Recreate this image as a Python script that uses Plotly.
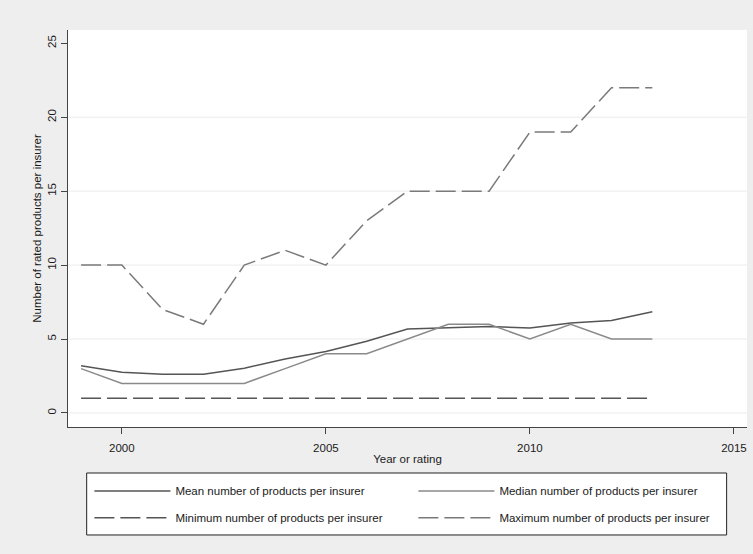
import plotly.graph_objects as go

# Rated products per insurer, by year
years = list(range(1999, 2014))
mean_products = [3.2, 2.76, 2.62, 2.62, 3.03, 3.65, 4.15, 4.85, 5.67, 5.74, 5.85, 5.74, 6.08, 6.26, 6.84]
median_products = [3, 2, 2, 2, 2, 3, 4, 4, 5, 6, 6, 5, 6, 5, 5]
min_products = [1] * 15
max_products = [10, 10, 7, 6, 10, 11, 10, 13, 15, 15, 15, 19, 19, 22, 22]

x_ticks = [2000, 2005, 2010, 2015]
y_ticks = [0, 5, 10, 15, 20, 25]
y_grid = [0, 5, 10, 15, 20]

FONT = "Liberation Sans, Arial, sans-serif"
FS = 11.5
DASH = "20px,6px"

fig = go.Figure()
fig.add_trace(go.Scatter(x=years, y=mean_products, mode="lines",
                         name="Mean number of products per insurer",
                         line=dict(color="#555555", width=1.5), legend="legend"))
fig.add_trace(go.Scatter(x=years, y=median_products, mode="lines",
                         name="Median number of products per insurer",
                         line=dict(color="#8a8a8a", width=1.5), legend="legend"))
fig.add_trace(go.Scatter(x=years, y=min_products, mode="lines",
                         name="Minimum number of products per insurer",
                         line=dict(color="#555555", width=1.5, dash=DASH), legend="legend2"))
fig.add_trace(go.Scatter(x=years, y=max_products, mode="lines",
                         name="Maximum number of products per insurer",
                         line=dict(color="#7a7a7a", width=1.5, dash=DASH), legend="legend2"))

# horizontal grid lines (none at the top tick)
shapes = [dict(type="line", xref="paper", yref="y", x0=0, x1=1, y0=g, y1=g,
               line=dict(color="#ebebeb", width=1), layer="below") for g in y_grid]
# legend frame
shapes.append(dict(type="rect", xref="paper", yref="paper",
                   x0=0.0275, x1=0.970, y0=-0.272, y1=-0.1159,
                   line=dict(color="#222222", width=1), fillcolor="white", layer="below"))

legend_common = dict(orientation="h", xanchor="left", yanchor="middle",
                     x=0.0315, bgcolor="rgba(0,0,0,0)", borderwidth=0,
                     entrywidth=233, entrywidthmode="pixels", itemwidth=76,
                     font=dict(family=FONT, size=FS, color="#1a1a1a"))

fig.update_layout(
    width=753, height=554,
    margin=dict(l=68, r=6, t=30, b=127),
    paper_bgcolor="#eeeeee", plot_bgcolor="white",
    font=dict(family=FONT, size=FS, color="#1a1a1a"),
    showlegend=True,
    legend=dict(legend_common, y=-0.1612),
    legend2=dict(legend_common, y=-0.2285),
    shapes=shapes,
    xaxis=dict(range=[1998.68, 2015.32], tickvals=x_ticks, showgrid=False, zeroline=False,
               showline=True, linecolor="#444444", linewidth=1.2,
               ticks="outside", ticklen=6, tickcolor="#444444", ticklabelstandoff=4,
               title=dict(text="Year or rating", standoff=2, font=dict(size=FS))),
    yaxis=dict(range=[-0.95, 25.9], tickvals=y_ticks, showgrid=False, zeroline=False,
               showline=True, linecolor="#444444", linewidth=1.2,
               ticks="outside", ticklen=6, tickcolor="#444444", tickangle=-90,
               title=dict(text="Number of rated products per insurer", standoff=2,
                          font=dict(size=FS))),
)

fig.write_html("out.html")
